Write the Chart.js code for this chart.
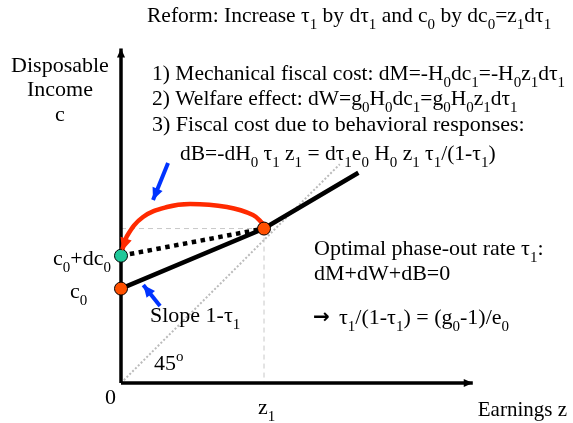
<!DOCTYPE html>
<html>
<head>
<meta charset="utf-8">
<script src="https://cdn.jsdelivr.net/npm/chart.js@4/dist/chart.umd.min.js"></script>
<style>
  html, body { margin: 0; padding: 0; background: #fff; }
  #wrap { width: 573px; height: 423px; }
</style>
</head>
<body>
<div id="wrap"><canvas id="c" width="573" height="423"></canvas></div>
<script>
// values in units where z1 = 1 (both axes on the same scale)
const c0 = 0.66;
const c0dc0 = 0.89;
const kink = [1, 1.08];
const budgetLine = [[0, c0], [1, 1.08], [1.66, 1.47]];
const reformLine = [[0, c0dc0], [1, 1.08]];
const line45 = [[0, 0], [1.53, 1.53]];
const guideH = [[0, 1.08], [1, 1.08]];
const guideV = [[1, 1.08], [1, 0]];
const redCurve = [[0.993, 1.112], [0.923, 1.175], [0.741, 1.231], [0.483, 1.252],
                  [0.322, 1.231], [0.154, 1.161], [0.042, 1.028], [0.007, 0.923]];
const blueArrow1 = [[0.329, 1.538], [0.224, 1.280]];
const blueArrow2 = [[0.273, 0.539], [0.156, 0.685]];
const yAxisLine = [[0, 0], [0, 2.34]];
const xAxisLine = [[0, 0], [2.46, 0]];

const xy = arr => arr.map(p => ({x: p[0], y: p[1]}));

// text labels: [markup, x px, baseline px, size, align, font]
const serif = '"Liberation Serif", "Times New Roman", serif';
const labels = [
  ['Reform: Increase τ_{1} by dτ_{1} and c_{0} by dc_{0}=z_{1}dτ_{1}', 147, 22, 21.5, 'left'],
  ['Disposable', 60, 72, 22, 'center'],
  ['Income', 60, 96, 22, 'center'],
  ['c', 60, 121, 22, 'center'],
  ['1) Mechanical fiscal cost: dM=-H_{0}dc_{1}=-H_{0}z_{1}dτ_{1}', 152, 80, 21.5, 'left'],
  ['2) Welfare effect: dW=g_{0}H_{0}dc_{1}=g_{0}H_{0}z_{1}dτ_{1}', 152, 105, 21.5, 'left'],
  ['3) Fiscal cost due to behavioral responses:', 152, 131, 22, 'left'],
  ['dB=-dH_{0} τ_{1} z_{1} = dτ_{1}e_{0} H_{0} z_{1} τ_{1}/(1-τ_{1})', 180, 160, 21.5, 'left'],
  ['Optimal phase-out rate τ_{1}:', 314, 255, 22, 'left'],
  ['dM+dW+dB=0', 314, 280, 22, 'left'],
  ['→', 313, 323, 20, 'left', 'bold 20px "DejaVu Sans", sans-serif'],
  ['τ_{1}/(1-τ_{1}) = (g_{0}-1)/e_{0}', 339, 324, 22, 'left'],
  ['c_{0}+dc_{0}', 111, 265, 22, 'right'],
  ['c_{0}', 70, 298, 22, 'left'],
  ['Slope 1-τ_{1}', 150, 322, 22, 'left'],
  ['45^{o}', 154, 370, 22, 'left'],
  ['0', 105, 404, 22, 'left'],
  ['z_{1}', 258, 414, 22, 'left'],
  ['Earnings z', 567, 416, 21, 'right']
];

function parseMarkup(s) {
  const parts = [];
  const re = /([_^])\{([^}]*)\}/g;
  let last = 0, m;
  while ((m = re.exec(s)) !== null) {
    if (m.index > last) parts.push([s.slice(last, m.index), 0]);
    parts.push([m[2], m[1] === '_' ? 1 : -1]);
    last = re.lastIndex;
  }
  if (last < s.length) parts.push([s.slice(last), 0]);
  return parts;
}

const textPlugin = {
  id: 'richText',
  afterDraw(chart) {
    const ctx = chart.ctx;
    ctx.save();
    ctx.fillStyle = '#000';
    ctx.textBaseline = 'alphabetic';
    ctx.textAlign = 'left';
    labels.forEach(([txt, x, y, size, align, font]) => {
      const parts = parseMarkup(txt);
      const fontOf = k => font || ((k === 0 ? size : Math.round(size * 0.68)) + 'px ' + serif);
      let w = 0;
      parts.forEach(([t, k]) => { ctx.font = fontOf(k); w += ctx.measureText(t).width; });
      let cx = align === 'right' ? x - w : align === 'center' ? x - w / 2 : x;
      parts.forEach(([t, k]) => {
        ctx.font = fontOf(k);
        const dy = k === 1 ? size * 0.33 : k === -1 ? -size * 0.42 : 0;
        ctx.fillText(t, cx, y + dy);
        cx += ctx.measureText(t).width;
      });
    });
    ctx.restore();
  }
};

const arrowPlugin = {
  id: 'arrowHeads',
  afterDatasetsDraw(chart) {
    const ctx = chart.ctx;
    chart.data.datasets.forEach((ds, i) => {
      if (!ds.arrow) return;
      const pts = chart.getDatasetMeta(i).data;
      const end = pts[pts.length - 1];
      let fx = pts[pts.length - 2].x, fy = pts[pts.length - 2].y;
      if (ds.tension && end.cp1x !== undefined) { fx = end.cp1x; fy = end.cp1y; }
      const ang = Math.atan2(end.y - fy, end.x - fx);
      const len = ds.arrow, half = ds.arrow * 0.45;
      ctx.save();
      ctx.fillStyle = ds.borderColor;
      ctx.beginPath();
      ctx.moveTo(end.x, end.y);
      ctx.lineTo(end.x - len * Math.cos(ang) + half * Math.sin(ang), end.y - len * Math.sin(ang) - half * Math.cos(ang));
      ctx.lineTo(end.x - len * Math.cos(ang) - half * Math.sin(ang), end.y - len * Math.sin(ang) + half * Math.cos(ang));
      ctx.closePath();
      ctx.fill();
      ctx.restore();
    });
  }
};

const line = (data, color, width, dash, extra) => Object.assign({
  type: 'line', data: xy(data), borderColor: color, borderWidth: width,
  borderDash: dash || [], pointRadius: 0, fill: false, tension: 0, clip: false
}, extra || {});

const ctx = document.getElementById('c').getContext('2d');
new Chart(ctx, {
  type: 'scatter',
  data: {
    datasets: [
      {
        type: 'scatter', clip: false,
        data: xy([[0, c0], kink]),
        pointRadius: 6.5, pointBackgroundColor: '#ff5000', pointBorderColor: '#000', pointBorderWidth: 1
      },
      {
        type: 'scatter', clip: false,
        data: xy([[0, c0dc0]]),
        pointRadius: 6.5, pointBackgroundColor: '#20c89a', pointBorderColor: '#000', pointBorderWidth: 1
      },
      line(redCurve, '#ff2a00', 4.5, [], {tension: 0.4, arrow: 13}),
      line(blueArrow1, '#0033ff', 4, [], {arrow: 12}),
      line(blueArrow2, '#0033ff', 4, [], {arrow: 12}),
      line(reformLine, '#000', 4.5, [4.5, 4.5]),
      line(budgetLine, '#000', 4.5),
      line(yAxisLine, '#000', 3.5, [], {arrow: 9}),
      line(xAxisLine, '#000', 3.5, [], {arrow: 9}),
      line(line45, '#bbbbbb', 2, [2, 2]),
      line(guideH, '#c8c8c8', 1, [5, 4]),
      line(guideV, '#c8c8c8', 1, [5, 4])
    ]
  },
  options: {
    responsive: false,
    animation: false,
    layout: { padding: { left: 121, right: 94.5, top: 39.8, bottom: 40 } },
    scales: {
      x: { type: 'linear', min: 0, max: 2.5, display: false },
      y: { type: 'linear', min: 0, max: 2.4, display: false }
    },
    plugins: {
      legend: { display: false },
      tooltip: { enabled: false }
    }
  },
  plugins: [arrowPlugin, textPlugin]
});
</script>
</body>
</html>
